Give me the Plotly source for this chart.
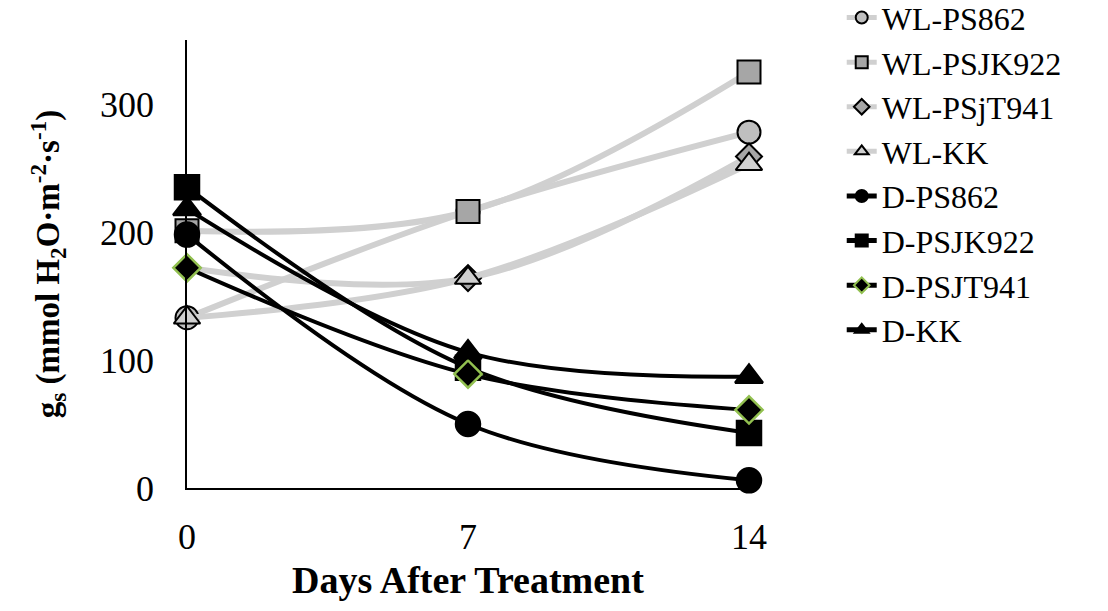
import plotly.graph_objects as go

days = [0, 7, 14]
series_names = ["WL-PS862", "WL-PSJK922", "WL-PSjT941", "WL-KK",
                "D-PS862", "D-PSJK922", "D-PSJT941", "D-KK"]
wl_ps862 = [133, 216, 278]
wl_psjk922 = [201, 216, 325]
wl_psjt941 = [172, 164, 259]
wl_kk = [133, 164, 253]
d_ps862 = [198, 50, 6]
d_psjk922 = [235, 94, 43]
d_psjt941 = [172, 89, 61]
d_kk = [218, 106, 87]

values = [wl_ps862, wl_psjk922, wl_psjt941, wl_kk, d_ps862, d_psjk922, d_psjt941, d_kk]
symbols = ["circle", "square", "diamond", "triangle-up"] * 2
wl_fills = ["#bfbfbf", "#a6a6a6", "#a6a6a6", "#d0d0d0"]

fig = go.Figure()
for i, (name, vals) in enumerate(zip(series_names, values)):
    wl = i < 4
    if wl:
        line = dict(color="#d0d0d0", width=6, shape="spline", smoothing=1)
        marker = dict(symbol=symbols[i], size=23 if symbols[i] != "diamond" else 20,
                      color=wl_fills[i], line=dict(color="black", width=2))
    else:
        line = dict(color="black", width=4, shape="spline", smoothing=1)
        lc = "#92c050" if name == "D-PSJT941" else "black"
        marker = dict(symbol=symbols[i], size=24 if symbols[i] != "diamond" else 21,
                      color="black", line=dict(color=lc, width=2.5))
    fig.add_trace(go.Scatter(x=days, y=vals, name=name, mode="lines+markers",
                             line=line, marker=marker, cliponaxis=False))

font_family = "Liberation Serif"
fig.update_layout(
    width=1108, height=611,
    margin=dict(l=187, r=359, t=40, b=123, autoexpand=False),
    plot_bgcolor="white", paper_bgcolor="white",
    font=dict(family=font_family, size=30, color="black"),
    showlegend=True,
    legend=dict(x=1.165, y=1.111, xanchor="left", yanchor="top",
                font=dict(family=font_family, size=32, color="black"),
                tracegroupgap=0, itemsizing="constant", bgcolor="rgba(0,0,0,0)",
                maxheight=700),
    xaxis=dict(range=[0, 14], tickvals=days, ticktext=["0", "7", "14"],
               showgrid=False, zeroline=False, showline=True, linecolor="black",
               linewidth=1.5, ticks="", ticklabelstandoff=16,
               tickfont=dict(family=font_family, size=36),
               title=dict(text="<b>Days After Treatment</b>", standoff=10,
                          font=dict(family=font_family, size=38))),
    yaxis=dict(range=[0, 350], tickvals=[0, 100, 200, 300],
               showgrid=False, zeroline=False, showline=True, linecolor="black",
               linewidth=1.5, ticks="", ticklabelstandoff=24,
               tickfont=dict(family=font_family, size=36),
               title=dict(text="<b>g<sub>s</sub> (mmol H<sub>2</sub>O·m<sup>-2</sup>·s<sup>-1</sup>)</b>",
                          standoff=30, font=dict(family=font_family, size=33))),
)

fig.write_html("out.html")
